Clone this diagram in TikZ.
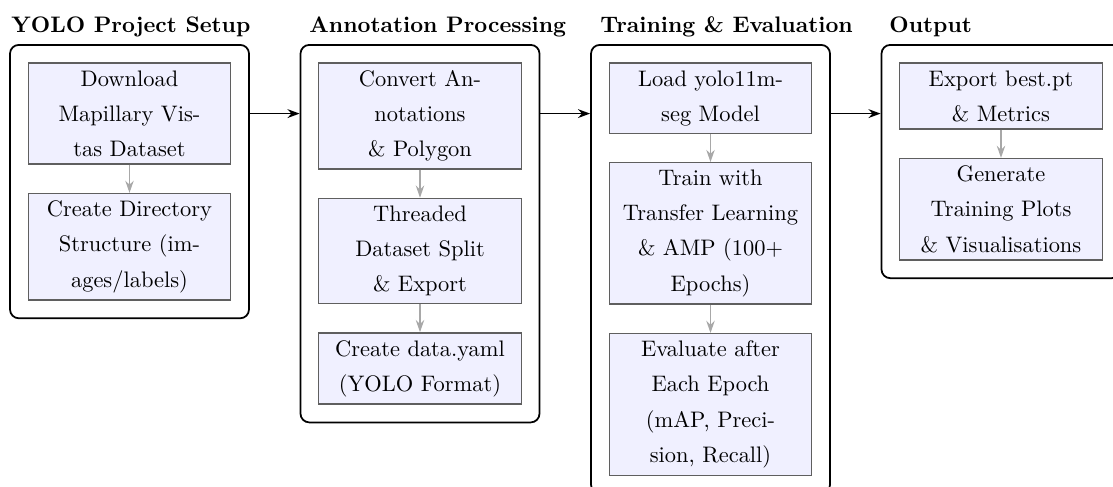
\documentclass[tikz,border=0pt]{standalone}
\usetikzlibrary{positioning,fit,arrows.meta}
\definecolor{boxfill}{RGB}{240,240,255}
\definecolor{boxline}{RGB}{95,95,95}
\definecolor{flowgray}{RGB}{168,168,168}
\begin{document}
\begin{tikzpicture}[x=0.4545pt,y=-0.4545pt,
  stepbox/.style={draw=boxline, fill=boxfill, line width=0.6pt, text width=3cm,
    align=center, inner sep=3.33pt, font=\fontsize{10.2pt}{16pt}\selectfont},
  groupbox/.style={draw=black, line width=0.8pt, rounded corners=4pt, inner sep=8pt},
  grouptitle/.style={anchor=base west, inner sep=0pt, font=\fontsize{10.2pt}{12pt}\selectfont\bfseries},
  flowarrow/.style={draw=flowgray, line width=0.7pt, -{Stealth[length=5.5pt,width=3.8pt]}},
  linkarrow/.style={draw=black, line width=0.8pt, -{Stealth[length=5.5pt,width=4pt]}},
  node distance=12.8pt]
\useasboundingbox (0,0) rectangle (1113,487);
\clip (0,0) rectangle (1113,487);

% Column 1: project setup
\node[stepbox, anchor=north] (a1) at (129.5,62.5) {Download\\Mapillary Vis-\\tas Dataset};
\node[stepbox, below=of a1] (a2) {Create Directory\\Structure (im-\\ages/labels)};
\node[groupbox, fit=(a1)(a2)] (c1) {};
\node[grouptitle] (t1) at (11,33) {YOLO Project Setup};

% Column 2: annotation processing
\node[stepbox, anchor=north] (b1) at (420,62.5) {Convert An-\\notations\\\& Polygon};
\node[stepbox, below=of b1] (b2) {Threaded\\Dataset Split\\\& Export};
\node[stepbox, below=of b2] (b3) {Create data.yaml\\(YOLO Format)};
\node[groupbox, fit=(b1)(b2)(b3)] (c2) {};
\node[grouptitle] (t2) at (309,33) {Annotation Processing};

% Column 3: training and evaluation
\node[stepbox, anchor=north] (d1) at (710.5,62.5) {Load yolo11m-\\seg Model};
\node[stepbox, below=of d1] (d2) {Train with\\Transfer Learning\\\& AMP (100+\\Epochs)};
\node[stepbox, below=of d2] (d3) {Evaluate after\\Each Epoch\\(mAP, Preci-\\sion, Recall)};
\node[groupbox, fit=(d1)(d2)(d3)] (c3) {};
\node[grouptitle] (t3) at (600,33) {Training \& Evaluation};

% Column 4: output
\node[stepbox, anchor=north] (e1) at (1001,62.5) {Export best.pt\\\& Metrics};
\node[stepbox, below=of e1] (e2) {Generate\\Training Plots\\\& Visualisations};
\node[groupbox, fit=(e1)(e2)] (c4) {};
\node[grouptitle] (t4) at (889,33) {Output};

% Steps within each column
\draw[flowarrow] (a1) -- (a2);
\draw[flowarrow] (b1) -- (b2);
\draw[flowarrow] (b2) -- (b3);
\draw[flowarrow] (d1) -- (d2);
\draw[flowarrow] (d2) -- (d3);
\draw[flowarrow] (e1) -- (e2);

% Links between the stages
\draw[linkarrow] (c1.east |- a1) -- (c2.west |- a1);
\draw[linkarrow] (c2.east |- a1) -- (c3.west |- a1);
\draw[linkarrow] (c3.east |- a1) -- (c4.west |- a1);
\end{tikzpicture}
\end{document}
